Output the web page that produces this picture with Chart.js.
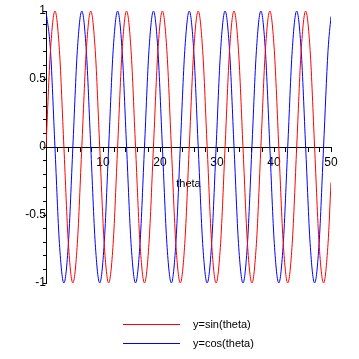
<!DOCTYPE html>
<html>
<head>
<meta charset="utf-8">
<script src="https://cdn.jsdelivr.net/npm/chart.js@4/dist/chart.umd.min.js"></script>
<style>
  html, body { margin: 0; padding: 0; background: #fff; }
  canvas { display: block; }
</style>
</head>
<body>
<canvas id="grafico" width="359" height="359"></canvas>
<script>
// theta samples, every quarter of a half-period (pi/4), up to 50
const theta = [
  0, 0.785, 1.571, 2.356, 3.142, 3.927, 4.712, 5.498,
  6.283, 7.069, 7.854, 8.639, 9.425, 10.210, 10.996, 11.781,
  12.566, 13.352, 14.137, 14.923, 15.708, 16.493, 17.279, 18.064,
  18.850, 19.635, 20.420, 21.206, 21.991, 22.777, 23.562, 24.347,
  25.133, 25.918, 26.704, 27.489, 28.274, 29.060, 29.845, 30.631,
  31.416, 32.201, 32.987, 33.772, 34.558, 35.343, 36.128, 36.914,
  37.699, 38.485, 39.270, 40.055, 40.841, 41.626, 42.412, 43.197,
  43.982, 44.768, 45.553, 46.339, 47.124, 47.909, 48.695, 49.480,
  50
];

// y = sin(theta), read at the samples above
const sinValues = [
  0, 0.71, 1, 0.71, 0, -0.71, -1, -0.71,
  0, 0.71, 1, 0.71, 0, -0.71, -1, -0.71,
  0, 0.71, 1, 0.71, 0, -0.71, -1, -0.71,
  0, 0.71, 1, 0.71, 0, -0.71, -1, -0.71,
  0, 0.71, 1, 0.71, 0, -0.71, -1, -0.71,
  0, 0.71, 1, 0.71, 0, -0.71, -1, -0.71,
  0, 0.71, 1, 0.71, 0, -0.71, -1, -0.71,
  0, 0.71, 1, 0.71, 0, -0.71, -1, -0.71,
  -0.26
];

// y = cos(theta)
const cosValues = [
  1, 0.71, 0, -0.71, -1, -0.71, 0, 0.71,
  1, 0.71, 0, -0.71, -1, -0.71, 0, 0.71,
  1, 0.71, 0, -0.71, -1, -0.71, 0, 0.71,
  1, 0.71, 0, -0.71, -1, -0.71, 0, 0.71,
  1, 0.71, 0, -0.71, -1, -0.71, 0, 0.71,
  1, 0.71, 0, -0.71, -1, -0.71, 0, 0.71,
  1, 0.71, 0, -0.71, -1, -0.71, 0, 0.71,
  1, 0.71, 0, -0.71, -1, -0.71, 0, 0.71,
  0.96
];

const seriesLabels = ['y=sin(theta)', 'y=cos(theta)'];
const xTickLabels = [10, 20, 30, 40, 50];
const yTickLabels = [-1, -0.5, 0, 0.5, 1];

const vermelho = '#ff0000';
const azul = '#0000ff';

function pontos(ys) {
  return theta.map((t, i) => ({ x: t, y: ys[i] }));
}

// legend drawn as short lines with the text beside them, stacked
const legendaMaple = {
  id: 'legendaMaple',
  afterDraw(chart) {
    const ctx = chart.ctx;
    ctx.save();
    ctx.font = '11px "Liberation Sans", Arial, sans-serif';
    ctx.textBaseline = 'middle';
    ctx.fillStyle = '#000';
    chart.data.datasets.forEach((ds, i) => {
      const y = 324.5 + i * 19;
      ctx.strokeStyle = ds.borderColor;
      ctx.lineWidth = 1;
      ctx.beginPath();
      ctx.moveTo(123, y);
      ctx.lineTo(180, y);
      ctx.stroke();
      ctx.fillText(ds.label, 193, y);
    });
    ctx.restore();
  }
};

const fonteTicks = { family: '"Liberation Sans", Arial, sans-serif', size: 12 };

new Chart(document.getElementById('grafico'), {
  type: 'line',
  data: {
    datasets: [
      { label: seriesLabels[0], data: pontos(sinValues), borderColor: vermelho, borderWidth: 1, pointRadius: 0, cubicInterpolationMode: 'monotone' },
      { label: seriesLabels[1], data: pontos(cosValues), borderColor: azul, borderWidth: 1, pointRadius: 0, cubicInterpolationMode: 'monotone' }
    ]
  },
  options: {
    responsive: false,
    animation: false,
    // axes placed at the origin do not take layout space
    layout: { padding: { left: 46, right: 28, top: 11, bottom: 76 } },
    plugins: { legend: { display: false }, tooltip: { enabled: false } },
    scales: {
      x: {
        type: 'linear',
        min: 0,
        max: 50,
        position: { y: 0 },
        afterFit: (s) => { s.height = 44; },
        border: { display: true, color: '#000', width: 1 },
        grid: { drawOnChartArea: false, color: '#000', tickLength: 4 },
        ticks: {
          stepSize: 2,
          autoSkip: false,
          maxTicksLimit: 40,
          maxRotation: 0,
          padding: 4,
          color: '#000',
          font: fonteTicks,
          callback: (v) => xTickLabels.includes(v) ? String(v) : ''
        },
        title: {
          display: true,
          text: 'theta',
          color: '#000',
          padding: 0,
          font: { family: '"Liberation Sans", Arial, sans-serif', size: 11 }
        }
      },
      y: {
        type: 'linear',
        min: -1,
        max: 1,
        position: { x: 0 },
        afterFit: (s) => { s.width = 0; },
        border: { display: true, color: '#000', width: 1 },
        grid: { drawOnChartArea: false, color: '#000', tickLength: 3 },
        ticks: {
          stepSize: 0.1,
          autoSkip: false,
          maxTicksLimit: 40,
          padding: 1,
          color: '#000',
          font: fonteTicks,
          callback: (v) => {
            const hit = yTickLabels.find(t => Math.abs(t - v) < 1e-6);
            return hit === undefined ? '' : String(hit);
          }
        }
      }
    }
  },
  plugins: [legendaMaple]
});
</script>
</body>
</html>
